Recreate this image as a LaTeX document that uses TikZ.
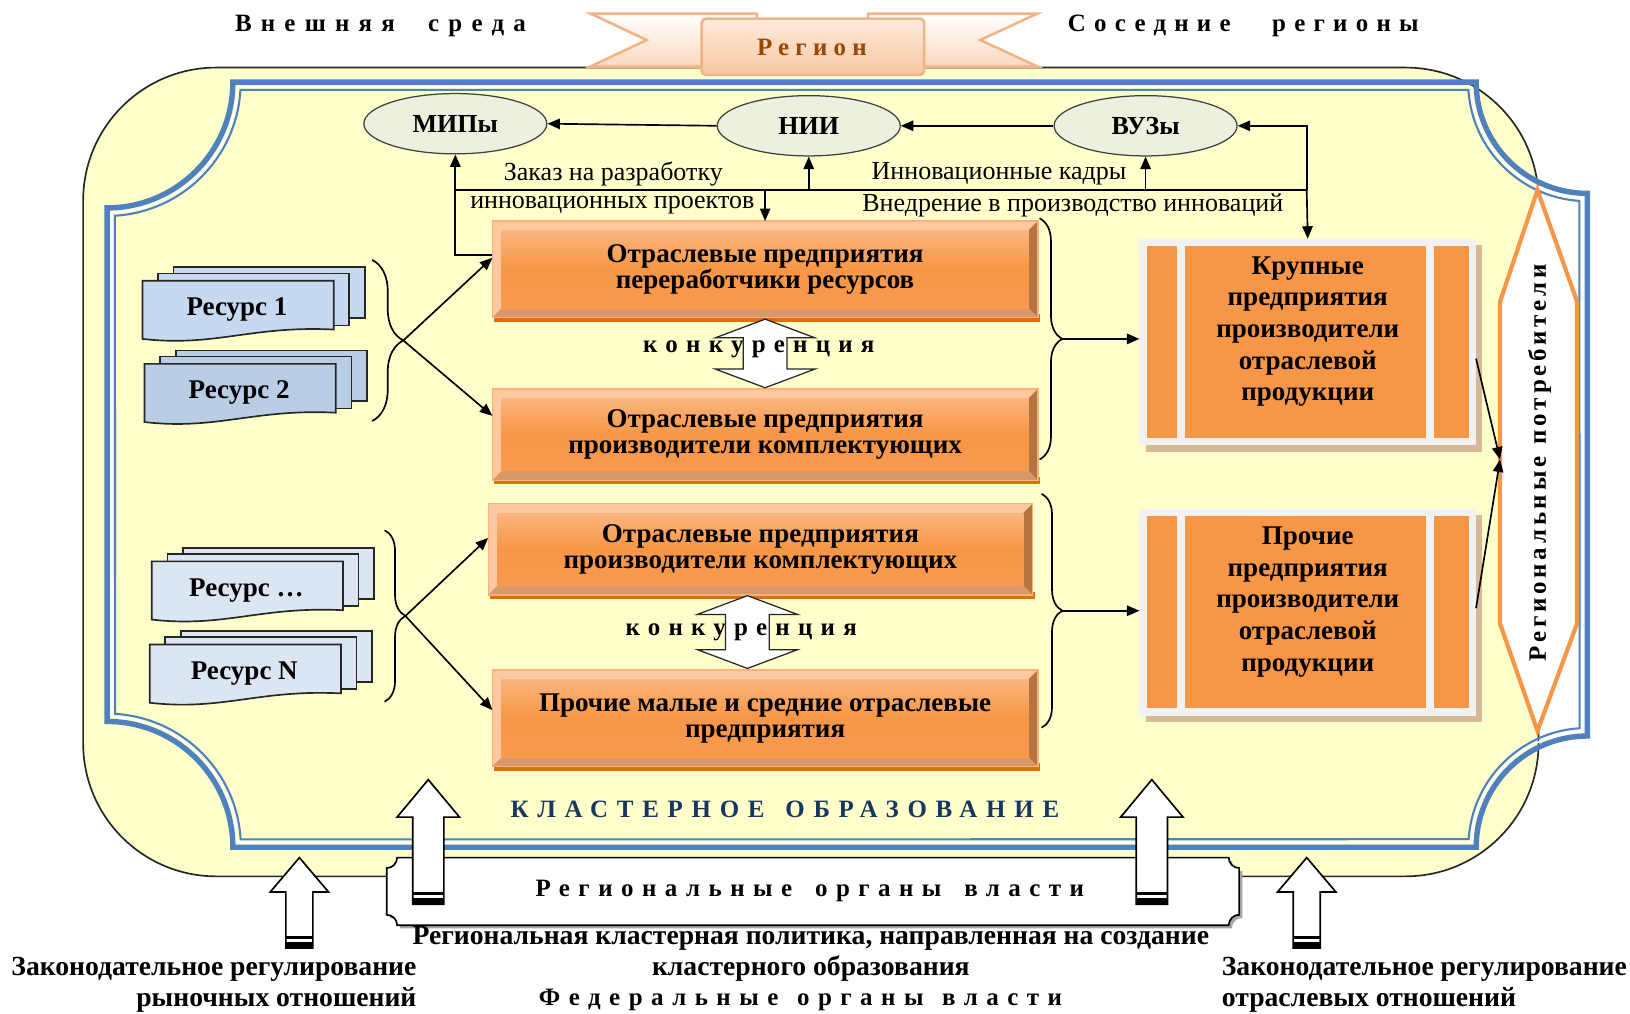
\documentclass[tikz,border=0pt]{standalone}
\usepackage{fontspec}
\setmainfont{Liberation Serif}
\usetikzlibrary{calc,arrows.meta,decorations.pathreplacing,shapes.geometric}
\pgfdeclarelayer{bg}
\pgfdeclarelayer{mid}
\pgfsetlayers{bg,mid,main}
\definecolor{yel}{HTML}{FFFFCC}
\definecolor{fblue}{HTML}{4F81BD}
\definecolor{org}{HTML}{F79646}
\definecolor{orgT}{HTML}{FAB57E}
\definecolor{orgL}{HTML}{FCC9A0}
\definecolor{orgD}{HTML}{B87440}
\definecolor{orgB}{HTML}{D9986A}
\definecolor{orgS}{HTML}{E46C0A}
\definecolor{orgE}{HTML}{F9B27C}
\definecolor{ellf}{HTML}{EBF1DE}
\definecolor{docA}{HTML}{C6D9F1}
\definecolor{docB}{HTML}{B9CDE5}
\definecolor{docC}{HTML}{DCE6F2}
\definecolor{navy}{HTML}{17375E}
\definecolor{brn}{HTML}{974806}
\definecolor{rib}{HTML}{F4B183}
\definecolor{ribf}{HTML}{FBD9C0}
\definecolor{ribt}{HTML}{FEEADB}
\definecolor{ribb}{HTML}{F8C7A3}
\definecolor{gfr}{HTML}{F2F2F2}
\definecolor{gsh}{HTML}{D7B899}
\newcommand\ls[2]{{\addfontfeature{LetterSpace=#1}#2}}
\newcommand\framepath[1]{%
 ({224+#1},{79+#1}) -- ({1420-#1},{79+#1})
 arc[start angle={180-asin(#1/(107+#1))}, end angle={90+asin(#1/(107+#1))}, radius={107+#1}]
 -- ({1527-#1},{708-#1})
 arc[start angle={270-asin(#1/(107+#1))}, end angle={180+asin(#1/(107+#1))}, radius={107+#1}]
 -- ({224+#1},{815-#1})
 arc[start angle={-asin(#1/(121+#1))}, end angle={-90+asin(#1/(121+#1))}, radius={121+#1}]
 -- ({103+#1},{200+#1})
 arc[start angle={90-asin(#1/(121+#1))}, end angle={asin(#1/(121+#1))}, radius={121+#1}]
 -- cycle}
\newcommand\obox[6]{%
  \node[obtext, minimum width=#4, minimum height=#5] (#1) at (#2,#3) {#6};
  \begin{pgfonlayer}{mid}
    \fill[orgS] ($(#1.south west)+(2,-3)$) rectangle ($(#1.south east)+(2,4)$);
    \fill[orgL] (#1.north west) rectangle (#1.south east);
    \fill[orgD] (#1.north east) -- (#1.south east) -- ($(#1.south east)+(-9,-9)$) -- ($(#1.north east)+(-9,9)$) -- cycle;
    \fill[orgB] (#1.south west) -- (#1.south east) -- ($(#1.south east)+(-9,-9)$) -- ($(#1.south west)+(9,-9)$) -- cycle;
    \shade[top color=orgT, bottom color=org!85!orgT, middle color=org] ($(#1.north west)+(9,9)$) rectangle ($(#1.south east)+(-9,-9)$);
    \draw[orgE, line width=0.6pt] (#1.north west) rectangle (#1.south east);
  \end{pgfonlayer}}
\newcommand\gbox[5]{%
  \node[minimum width=161.5pt, minimum height=99pt, inner sep=0pt] (#1) at (#2,#3) {};
  \node[gtext] (#1t) at (#2,{#3+#5}) {#4};
  \begin{pgfonlayer}{mid}
    \fill[gsh] ($(#1.north west)+(6,6)$) rectangle ($(#1.south east)+(6,6)$);
    \fill[gfr] (#1.north west) rectangle (#1.south east);
    \fill[org] ($(#1.north west)+(7,7)$) rectangle ($(#1.south west)+(36,-7)$);
    \fill[org] ($(#1.north west)+(44,7)$) rectangle ($(#1.south east)+(-48,-7)$);
    \fill[org] ($(#1.north east)+(-40,7)$) rectangle ($(#1.south east)+(-7,-7)$);
  \end{pgfonlayer}}
\newcommand\docs[5]{%
  \begin{pgfonlayer}{mid}
    \filldraw[fill=#4, draw=black!85, line width=0.8pt] ({#2+30},{#3-13}) rectangle ({#2+214},{#3+36});
    \filldraw[fill=#4, draw=black!85, line width=0.8pt] ({#2+15},{#3-7}) rectangle ({#2+199},{#3+43});
    \filldraw[fill=#4, draw=black!85, line width=0.8pt] (#2,#3) -- ({#2+184},#3) -- ({#2+184},{#3+47}) .. controls ({#2+105},{#3+43}) and ({#2+70},{#3+64}) .. (#2,{#3+56}) -- cycle;
  \end{pgfonlayer}
  \node[doctext] (#1) at ({#2+91},{#3+28}) {#5};}
\newcommand\dblarr[3]{%
  \filldraw[fill=white, draw=black!85, line width=0.6pt] (#1,#2) -- ({#1+48},{#2+18}) -- ({#1+21},{#2+18}) -- ({#1+21},{#3-18}) -- ({#1+48},{#3-18}) -- (#1,#3) -- ({#1-48},{#3-18}) -- ({#1-21},{#3-18}) -- ({#1-21},{#2+18}) -- ({#1-48},{#2+18}) -- cycle;}
\newcommand\bigup[6]{%
  \filldraw[fill=white, draw=black, line width=0.8pt] (#1,#2) -- ({#1+#4},{#2+#5}) -- ({#1+#6},{#2+#5}) -- ({#1+#6},#3) -- ({#1-#6},#3) -- ({#1-#6},{#2+#5}) -- ({#1-#4},{#2+#5}) -- cycle;
  \fill[black] ({#1-#6},{#3-12}) rectangle ({#1+#6},{#3-9});
  \fill[black] ({#1-#6},{#3-6}) rectangle ({#1+#6},#3);}
\begin{document}
\begin{tikzpicture}[x=0.5pt,y=-0.5pt,
 arr/.style={-{Triangle[length=6pt,width=5pt]}, line width=0.8pt},
 conn/.style={line width=0.8pt},
 ellnode/.style={ellipse, draw=black!75, line width=0.6pt, fill=ellf, minimum width=88pt, minimum height=29pt, inner sep=0pt, font=\fontsize{12.5}{14}\selectfont\bfseries},
 lab/.style={inner sep=0pt, font=\fontsize{12.5}{14}\selectfont},
 obtext/.style={inner sep=0pt, align=center, font=\fontsize{13}{12.5}\selectfont\bfseries},
 gtext/.style={inner sep=0pt, align=center, font=\fontsize{13}{15.25}\selectfont\bfseries},
 doctext/.style={inner sep=0pt, font=\fontsize{13}{14}\selectfont\bfseries},
 sptext/.style={inner sep=0pt, font=\fontsize{12}{14}\selectfont\bfseries},
 bt/.style={inner sep=0pt, font=\fontsize{13.3}{15}\selectfont\bfseries},
 brc/.style={decorate, decoration={brace, amplitude=#1}, line width=0.8pt}]
\useasboundingbox (0,0) rectangle (1568,975);
\begin{pgfonlayer}{bg}
  \fill[white] (0,0) rectangle (1568,975);
  \filldraw[fill=yel, draw=black!85, line width=0.8pt, rounded corners=64pt] (80,65) rectangle (1480,843);
  \draw[fblue, line width=2.6pt] \framepath{0};
  \draw[white, line width=1pt] \framepath{4.5};
  \draw[fblue, line width=1pt] \framepath{7.5};
\end{pgfonlayer}
% header
\node[sptext] (ext) at (366,25) {\ls{37}{Внешняя}\hspace{16pt}\ls{37}{среда}};
\node[sptext] (nbr) at (1196,25) {\ls{33}{Соседние}\hspace{20pt}\ls{33}{регионы}};
\filldraw[top color=white, bottom color=ribf, draw=rib, line width=1.2pt] (568,13) -- (728,13) -- (728,64) -- (568,64) -- (622,38.5) -- cycle;
\filldraw[top color=white, bottom color=ribf, draw=rib, line width=1.2pt] (835,13) -- (998,13) -- (943,38.5) -- (998,64) -- (835,64) -- cycle;
\filldraw[top color=ribt, bottom color=ribb, draw=rib, line width=1.2pt, rounded corners=2pt] (675,18) rectangle (889,72);
\node[inner sep=0pt, text=brn, font=\fontsize{12}{14}\selectfont\bfseries] (reg) at (781,46) {\ls{25}{Регион}};
% innovation nodes
\node[ellnode] (mip) at (438,119) {МИПы};
\node[ellnode] (nii) at (778,121) {НИИ};
\node[ellnode] (vuz) at (1102,121) {ВУЗы};
\node[lab] (l1) at (590,167) {Заказ на разработку};
\node[lab] (l2) at (589,197) {инновационных проектов};
\node[lab] (l3) at (961,167) {Инновационные кадры};
\node[lab] (l4) at (1032,198) {Внедрение в производство инноваций};
% enterprises
\obox{b1}{736}{259}{262pt}{46pt}{Отраслевые предприятия\\переработчики ресурсов}
\obox{b2}{736}{418}{262pt}{43.5pt}{Отраслевые предприятия\\производители комплектующих}
\obox{b3}{731.5}{528.5}{261.5pt}{43.5pt}{Отраслевые предприятия\\производители комплектующих}
\obox{b4}{736}{691}{262pt}{46pt}{Прочие малые и средние отраслевые\\предприятия}
\gbox{kr}{1258}{329}{Крупные\\предприятия\\производители\\отраслевой\\продукции}{-10}
\gbox{pr}{1258}{589}{Прочие\\предприятия\\производители\\отраслевой\\продукции}{-10}
% connectors at top
\coordinate (hL) at (438,183);
\coordinate (hR) at (1257,183);
\draw[arr] (nii.west) -- (mip.east);
\draw[arr] (vuz.west) -- (nii.east);
\draw[conn] (hL) -- (hR);
\draw[arr] ($(b1.west)+(0,-14)$) -| (mip.south);
\draw[arr] (nii.south |- hL) -- (nii.south);
\draw[arr] (vuz.south |- hL) -- (vuz.south);
\draw[arr] (b1.north |- hL) -- (b1.north);
\draw[arr] (hR) |- (vuz.east);
\draw[arr] (hR) -- (kr.north);
% resources
\docs{r1}{137}{270}{docA}{Ресурс 1}
\docs{r2}{139}{350}{docB}{Ресурс 2}
\docs{r3}{146}{540}{docC}{Ресурс …}
\docs{r4}{144}{620}{docC}{Ресурс N}
% braces
\draw[brc=15pt] (358,250) -- (358,405);
\draw[brc=10pt] (370,510) -- (370,675);
\draw[brc=11pt] (1000,210) -- (1000,442);
\draw[brc=10pt] (1002,475) -- (1002,700);
\coordinate (t1) at (388,327.5);
\coordinate (t2) at (390,592.5);
\coordinate (t3) at (1022,326);
\coordinate (t4) at (1022,587.5);
\draw[arr] (t1) -- ($(b1.west)+(0,-11)$);
\draw[arr] (t1) -- ($(b2.west)+(0,-18)$);
\draw[arr] (t2) -- ($(b3.west)+(0,-11)$);
\draw[arr] (t2) -- ($(b4.west)+(0,-8)$);
\draw[arr] (t3) -- (t3 -| kr.west);
\draw[arr] (t4) -- (t4 -| pr.west);
% competition
\dblarr{736}{307}{373}
\node[sptext] (k1) at (730,336) {\ls{33}{конкуренция}};
\dblarr{719}{573}{643}
\node[sptext] (k2) at (713,608) {\ls{33}{конкуренция}};
% consumers
\filldraw[fill=white, draw=org, line width=2pt] (1479,183) -- (1517,290) -- (1517,600) -- (1479,703) -- (1443,600) -- (1443,290) -- cycle;
\node[sptext, rotate=90] (cons) at (1481,445) {\ls{15}{Региональные}\hspace{6pt}\ls{15}{потребители}};
\coordinate (cL) at (1443,442);
\draw[arr] ($(kr.east)+(0,16)$) -- (cL);
\draw[arr] ($(pr.east)+(0,-4)$) -- (cL);
% cluster title
\node[inner sep=0pt, text=navy, font=\fontsize{12}{14}\selectfont\bfseries] (cl) at (755,779) {\ls{35}{КЛАСТЕРНОЕ}\hspace{10pt}\ls{35}{ОБРАЗОВАНИЕ}};
% regional authorities plaque
\fill[black!35] (385,828) -- (1185,828) arc[start angle=180, end angle=90, radius=10] -- (1195,883) arc[start angle=270, end angle=180, radius=10] -- (385,893) arc[start angle=0, end angle=-90, radius=10] -- (375,838) arc[start angle=90, end angle=0, radius=10] -- cycle;
\filldraw[fill=white, draw=black, line width=0.8pt] (382,825) -- (1182,825) arc[start angle=180, end angle=90, radius=10] -- (1192,880) arc[start angle=270, end angle=180, radius=10] -- (382,890) arc[start angle=0, end angle=-90, radius=10] -- (372,835) arc[start angle=90, end angle=0, radius=10] -- cycle;
\node[sptext] (rauth) at (779,857) {\ls{34}{Региональные}\hspace{11pt}\ls{34}{органы}\hspace{11pt}\ls{34}{власти}};
% up arrows
\bigup{412}{750}{870}{30}{36}{15}
\bigup{1108}{750}{870}{30}{36}{15}
\bigup{288}{825}{912}{28}{33}{13}
\bigup{1257}{825}{912}{28}{33}{13}
% bottom texts
\node[bt] (pol) at (780,903) {Региональная кластерная политика, направленная на создание};
\node[bt] (pol2) at (780,932) {кластерного образования};
\node[sptext] (fed) at (770,962) {\ls{34}{Федеральные}\hspace{9pt}\ls{34}{органы}\hspace{9pt}\ls{34}{власти}};
\node[bt, align=right, anchor=east] (zl) at (401,947) {Законодательное регулирование\\рыночных отношений};
\node[bt, align=left, anchor=west] (zr) at (1175,947) {Законодательное регулирование\\отраслевых отношений};
\end{tikzpicture}
\end{document}
